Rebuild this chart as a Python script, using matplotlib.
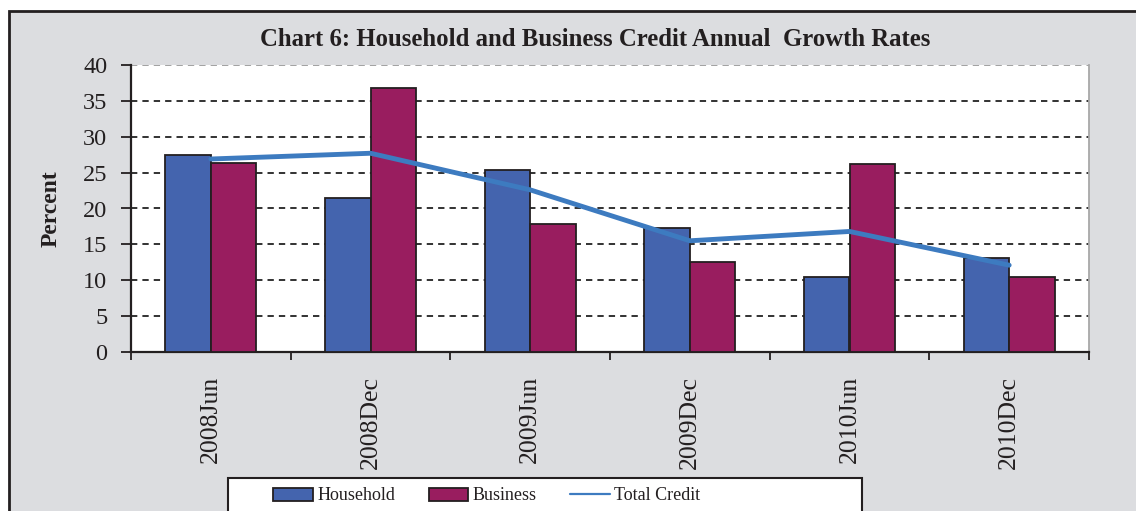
import numpy as np
import matplotlib.pyplot as plt
from matplotlib.patches import Rectangle

periods = ['2008Jun', '2008Dec', '2009Jun', '2009Dec', '2010Jun', '2010Dec']
household = [27.4, 21.4, 25.3, 17.3, 10.5, 13.1]
business = [26.4, 36.8, 17.8, 12.6, 26.2, 10.5]
total_credit = [26.9, 27.7, 22.6, 15.5, 16.8, 12.1]

blue = '#4464ae'
plum = '#991d5f'
line_blue = '#3d7bc0'
panel_gray = '#dcdde0'
edge = '#231f20'

plt.rcParams['font.family'] = ['Liberation Serif', 'DejaVu Serif']

fig = plt.figure(figsize=(11.36, 5.11), dpi=100, facecolor='white')

# grey panel with dark frame (cut off on the right and bottom)
fig.patches.append(Rectangle((9 / 1136, -0.1), 1.2, 1.1 - 11 / 511,
                             transform=fig.transFigure, facecolor=panel_gray,
                             edgecolor=edge, linewidth=2, zorder=-2))

ax = fig.add_axes([131 / 1136, 159 / 511, 958 / 1136, 287 / 511])
ax.set_facecolor('white')

x = np.arange(len(periods))
w = 0.285
b1 = ax.bar(x - w / 2, household, w, color=blue, edgecolor=edge, linewidth=1.3,
            label='Household', zorder=3)
b2 = ax.bar(x + w / 2, business, w, color=plum, edgecolor=edge, linewidth=1.3,
            label='Business', zorder=3)
l1, = ax.plot(x, total_credit, color=line_blue, linewidth=3.5,
              label='Total Credit', zorder=4, solid_capstyle='round')

ax.set_xlim(-0.5, 5.5)
ax.set_ylim(0, 40)
ax.set_yticks(range(0, 41, 5))
for v in range(5, 40, 5):
    ax.axhline(v, color='#222222', linewidth=1.3, dashes=(3.5, 2.8), zorder=1)
ax.axhline(40, color='#9a9a9a', linewidth=1.3, dashes=(3.5, 2.8), zorder=1)

ax.spines['top'].set_visible(False)
ax.spines['right'].set_color('#a8a8a8')
ax.spines['right'].set_linewidth(1.3)
ax.spines['left'].set_color(edge)
ax.spines['left'].set_linewidth(1.6)
ax.spines['bottom'].set_color(edge)
ax.spines['bottom'].set_linewidth(1.6)

ax.set_xticks(np.arange(-0.5, 6, 1))
ax.set_xticklabels([])
ax.tick_params(axis='x', which='major', length=6, width=1.3, color=edge)
ax.set_xticks(x, minor=True)
ax.set_xticklabels(periods, minor=True, rotation=90, fontsize=18.5,
                   color='#231f20', va='top')
ax.tick_params(axis='x', which='minor', length=0, pad=17)

ax.tick_params(axis='y', length=7, width=1.3, color=edge, labelsize=17.5,
               labelcolor='#231f20', pad=10)

ax.set_ylabel('Percent', fontsize=17, fontweight='bold', color='#231f20',
              va='center')
ax.yaxis.set_label_coords(-0.083, 0.5)

fig.text(595 / 1136, 1 - 40 / 511,
         'Chart 6: Household and Business Credit Annual  Growth Rates',
         ha='center', va='center', fontsize=17.8, fontweight='bold',
         color='#231f20')

# legend box
fig.patches.append(Rectangle((228 / 1136, -0.1), (862 - 228) / 1136,
                             0.1 + 1 - 478 / 511, transform=fig.transFigure,
                             facecolor='white', edgecolor=edge, linewidth=1.5,
                             zorder=1))
leg = fig.legend([b1, b2, l1], ['Household', 'Business', 'Total Credit'],
                 loc='center left', bbox_to_anchor=(264 / 1136, 1 - 496 / 511),
                 ncol=3, frameon=False, fontsize=13, handlelength=2.2,
                 handletextpad=0.25, columnspacing=1.85, borderpad=0.0)
for t in leg.get_texts():
    t.set_color('#231f20')
leg.legend_handles[2].set_linewidth(1.6)

plt.savefig('out.png', dpi=100, facecolor=fig.get_facecolor())
